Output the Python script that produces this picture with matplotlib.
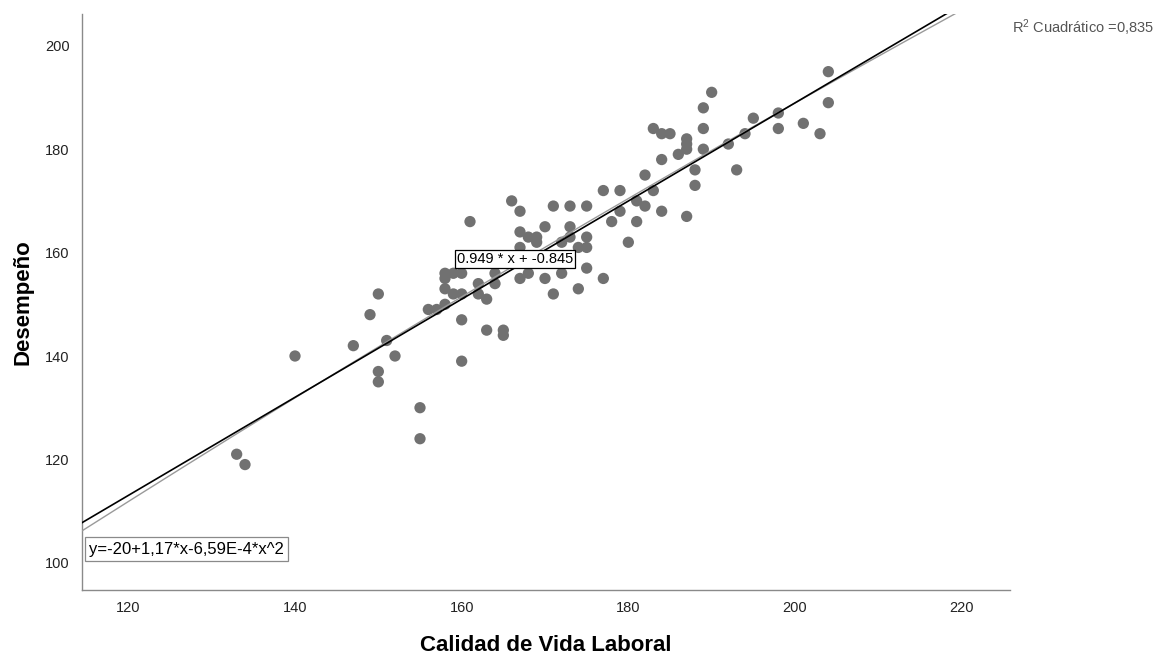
import numpy as np
import matplotlib
matplotlib.use("Agg")
import matplotlib.pyplot as plt

plt.rcParams['font.family'] = ['Liberation Sans', 'DejaVu Sans']
plt.rcParams['mathtext.fontset'] = 'custom'
plt.rcParams['mathtext.rm'] = 'Liberation Sans'

# Data: Calidad de Vida Laboral (x) vs Desempeño (y)
calidad = [133, 134, 140, 147, 149, 150, 150, 150, 151, 152, 155, 155, 156, 157,
           158, 159, 160, 158, 158, 159, 160, 158, 160, 160,
           161, 162, 162, 163, 164, 164, 163, 165, 165,
           166, 167, 167, 168, 169, 169, 167, 167, 168,
           170, 170, 171, 171, 172, 172, 173, 173, 173, 174, 175, 174, 175, 175, 175,
           177, 177, 178, 179, 179, 180, 181, 181, 182, 182, 183, 183, 184, 185, 184,
           184, 186, 187, 187, 187, 187, 188, 188, 189, 189, 189, 190, 192, 193, 194,
           195, 198, 198, 201, 203, 204, 204]
desempeno = [121, 119, 140, 142, 148, 152, 137, 135, 143, 140, 130, 124, 149, 149,
             156, 156, 156, 155, 153, 152, 152, 150, 147, 139,
             166, 154, 152, 151, 154, 156, 145, 145, 144,
             170, 168, 164, 163, 163, 162, 161, 155, 156,
             165, 155, 169, 152, 156, 162, 169, 165, 163, 161, 161, 153, 169, 163, 157,
             155, 172, 166, 172, 168, 162, 170, 166, 175, 169, 172, 184, 183, 183, 178,
             168, 179, 182, 181, 180, 167, 176, 173, 188, 184, 180, 191, 181, 176, 183,
             186, 187, 184, 185, 183, 195, 189]

lin_coef = [0.949, -0.845]               # y = 0.949*x - 0.845
quad_coef = [-19.6, 1.1745, -6.59e-4]    # y ≈ -20 + 1.17x - 6.59E-4 x^2 (unrounded)

xticks = [120, 140, 160, 180, 200, 220]
yticks = [100, 120, 140, 160, 180, 200]

fig = plt.figure(figsize=(11.58, 6.56), dpi=100)
ax = fig.add_axes([82/1158, 1-590/656, 928/1158, 576/656])

xmin, xmax = 114.44, 225.8
ymin, ymax = 94.74, 206.15
ax.set_xlim(xmin, xmax)
ax.set_ylim(ymin, ymax)

ax.scatter(calidad, desempeno, s=66, color='#717171', edgecolors='none', zorder=2)

xs = np.linspace(xmin, xmax, 400)
ax.plot(xs, quad_coef[0] + quad_coef[1]*xs + quad_coef[2]*xs**2,
        color='#9a9a9a', lw=1.0, zorder=3)
ax.plot(xs, lin_coef[0]*xs + lin_coef[1], color='black', lw=1.2, zorder=4)

ax.set_xticks(xticks)
ax.set_yticks(yticks)
ax.tick_params(length=0, labelsize=10.5, colors='#222222')
ax.tick_params(axis='x', pad=8)
ax.tick_params(axis='y', pad=9)
for s in ['top', 'right']:
    ax.spines[s].set_visible(False)
for s in ['left', 'bottom']:
    ax.spines[s].set_color('#8a8a8a')
    ax.spines[s].set_linewidth(1.0)

ax.set_xlabel('Calidad de Vida Laboral', fontsize=16, fontweight='bold', labelpad=14)
ax.set_ylabel('Desempeño', fontsize=16, fontweight='bold', labelpad=8)

ax.text(166.4, 158.8, '0.949 * x + -0.845', ha='center', va='center', fontsize=10.5,
        color='black', zorder=5,
        bbox=dict(boxstyle='square,pad=0.15', fc='white', ec='black', lw=0.9))

ax.text(0.0075, 0.071, 'y=-20+1,17*x-6,59E-4*x^2', transform=ax.transAxes,
        ha='left', va='center', fontsize=12, color='black', zorder=5,
        bbox=dict(boxstyle='square,pad=0.25', fc='white', ec='#8a8a8a', lw=0.9))

fig.text(1012/1158, 1-28/656, r'$\mathregular{R^2}$ Cuadrático =0,835',
         ha='left', va='center', fontsize=10.5, color='#555555')

fig.savefig('out.png', dpi=100)
